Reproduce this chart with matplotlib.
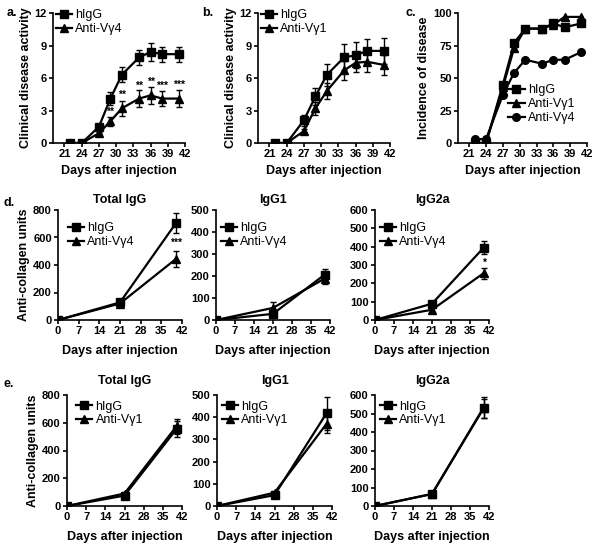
import numpy as np
import matplotlib
matplotlib.use('Agg')
import matplotlib.pyplot as plt

plt.rcParams['font.family'] = ['Liberation Sans', 'DejaVu Sans']
plt.rcParams['font.size'] = 8

# clinical score panels (a, b, c)
days = [22, 24, 27, 29, 31, 34, 36, 38, 41]

a_higg = [0, 0, 1.5, 4.1, 6.3, 7.9, 8.4, 8.2, 8.2]
a_higg_err = [0, 0, 0.3, 0.6, 0.7, 0.7, 0.8, 0.7, 0.7]
a_vg4 = [0, 0, 0.9, 2.0, 3.2, 4.1, 4.4, 4.1, 4.1]
a_vg4_err = [0, 0, 0.1, 0.4, 0.7, 0.8, 0.8, 0.7, 0.8]
a_stars = ['', '', '', '**', '**', '**', '**', '***', '***']
a_star_y = [0, 0, 0, 2.9, 4.4, 5.3, 5.6, 5.3, 5.4]

b_higg = [0, 0, 2.1, 4.3, 6.3, 7.9, 8.1, 8.5, 8.5]
b_higg_err = [0, 0, 0.5, 0.8, 1.0, 1.2, 1.2, 1.1, 1.2]
b_vg1 = [0, 0, 1.1, 3.2, 4.8, 6.7, 7.4, 7.5, 7.2]
b_vg1_err = [0, 0, 0.2, 0.6, 0.7, 0.9, 0.8, 0.9, 0.9]

c_higg = [0, 0, 45, 77, 88, 88, 92, 89, 92]
c_vg1 = [0, 0, 43, 73, 88, 88, 91, 97, 97]
c_vg4 = [3, 3, 37, 54, 64, 61, 64, 64, 70]

# antibody panels (d, e)
ab_days = [0, 21, 40]
titles = ['Total IgG', 'IgG1', 'IgG2a']
ylims = [800, 500, 600]

d_higg = [[0, 128, 706], [0, 28, 206], [0, 89, 394]]
d_higg_err = [[0, 10, 75], [0, 8, 28], [0, 12, 35]]
d_vg4 = [[0, 120, 445], [0, 55, 188], [0, 56, 255]]
d_vg4_err = [[0, 10, 60], [0, 25, 25], [0, 10, 30]]
d_stars = ['***', '', '*']
d_star_y = [560, 0, 310]

e_higg = [[0, 75, 555], [0, 49, 418], [0, 65, 532]]
e_higg_err = [[0, 8, 60], [0, 6, 75], [0, 8, 55]]
e_vg1 = [[0, 90, 575], [0, 60, 370], [0, 65, 528]]
e_vg1_err = [[0, 8, 55], [0, 6, 40], [0, 8, 50]]

W, H = 600, 545
fig = plt.figure(figsize=(6, 5.45), dpi=100)


def add_ax(x0, y_top, x1, y_bot):
    return fig.add_axes([x0 / W, 1 - y_bot / H, (x1 - x0) / W, (y_bot - y_top) / H])


def style(ax):
    for s in ['top', 'right']:
        ax.spines[s].set_visible(False)
    for s in ['left', 'bottom']:
        ax.spines[s].set_linewidth(1.2)
    ax.tick_params(width=1.2, length=3, pad=1.5, labelsize=8)
    for lab in ax.get_xticklabels() + ax.get_yticklabels():
        lab.set_fontweight('bold')


def series(ax, x, y, err, marker, label, ms=5.5):
    ax.errorbar(x, y, yerr=err, fmt='none', ecolor='black', elinewidth=1,
                capsize=2, capthick=1)
    ax.plot(x, y, '-', marker=marker, color='black', ms=ms, lw=1.6, label=label)


def legend(ax, x, y, fs=9):
    ax.legend(loc='upper left', bbox_to_anchor=(x, y), frameon=False,
              handlelength=1.3, handletextpad=0.25, labelspacing=0.15,
              borderpad=0, borderaxespad=0, fontsize=fs)


# ---- top row
top = [(53, 185, 7, 'a.'), (258, 390, 202, 'b.'), (458, 587, 406, 'c.')]
axs = [add_ax(x0, 13, x1, 143) for x0, x1, _, _ in top]

ax = axs[0]
series(ax, days, a_higg, a_higg_err, 's', 'hIgG')
series(ax, days, a_vg4, a_vg4_err, '^', 'Anti-V\u03b34')
for d, s, yy in zip(days, a_stars, a_star_y):
    if s:
        ax.text(d, yy, s, ha='center', va='center', fontsize=7.5, fontweight='bold')
legend(ax, 0.02, 1.03)

ax = axs[1]
series(ax, days, b_higg, b_higg_err, 's', 'hIgG')
series(ax, days, b_vg1, b_vg1_err, '^', 'Anti-V\u03b31')
legend(ax, 0.02, 1.03)

ax = axs[2]
ax.plot(days, c_higg, '-s', color='black', ms=5.5, lw=1.6, label='hIgG')
ax.plot(days, c_vg1, '-^', color='black', ms=5.5, lw=1.6, label='Anti-V\u03b31')
ax.plot(days, c_vg4, '-o', color='black', ms=5.5, lw=1.6, label='Anti-V\u03b34')
legend(ax, 0.39, 0.45)

for ax, (x0, x1, lx, letter) in zip(axs, top):
    ax.set_xlim(19, 42)
    ax.set_xticks(np.arange(21, 43, 3))
    ax.set_xlabel('Days after injection', fontweight='bold', fontsize=9, labelpad=4)
    fig.text(lx / W, 1 - 13 / H, letter, fontweight='bold', fontsize=9,
             ha='left', va='center')
axs[0].set_ylim(0, 12)
axs[1].set_ylim(0, 12)
for ax in axs[:2]:
    ax.set_yticks([0, 3, 6, 9, 12])
    ax.set_ylabel('Clinical disease activity', fontweight='bold', fontsize=9, labelpad=2)
axs[2].set_ylim(0, 100)
axs[2].set_yticks([0, 25, 50, 75, 100])
axs[2].set_ylabel('Incidence of disease', fontweight='bold', fontsize=9, labelpad=2)
for ax in axs:
    style(ax)

# ---- rows d and e
rows = [
    ('d.', 210, 320, [(58, 182), (216, 330), (375, 489)], d_higg, d_higg_err,
     d_vg4, d_vg4_err, 'Anti-V\u03b34', d_stars, d_star_y, 0.89, 200),
    ('e.', 395, 506, [(67, 182), (217, 332), (375, 489)], e_higg, e_higg_err,
     e_vg1, e_vg1_err, 'Anti-V\u03b31', ['', '', ''], [0, 0, 0], 0.95, 381),
]
for (letter, yt, yb, xs, hi, hi_e, an, an_e, an_lab, stars, star_y, leg_y,
     title_y) in rows:
    for i, (x0, x1) in enumerate(xs):
        ax = add_ax(x0, yt, x1, yb)
        series(ax, ab_days, hi[i], hi_e[i], 's', 'hIgG')
        series(ax, ab_days, an[i], an_e[i], '^', an_lab)
        if stars[i]:
            ax.text(40, star_y[i], stars[i], ha='center', va='center',
                    fontsize=7.5, fontweight='bold')
        ax.set_xlim(0, 42)
        ax.set_xticks(np.arange(0, 43, 7))
        ax.set_ylim(0, ylims[i])
        ax.set_yticks(np.arange(0, ylims[i] + 1, 200 if ylims[i] == 800 else 100))
        ax.set_xlabel('Days after injection', fontweight='bold', fontsize=9, labelpad=6)
        if i == 0:
            ax.set_ylabel('Anti-collagen units', fontweight='bold', fontsize=9, labelpad=2)
        fig.text((x0 + x1) / 2 / W, 1 - title_y / H, titles[i], fontweight='bold',
                 fontsize=9, ha='center', va='center')
        legend(ax, 0.08 if i == 0 else 0.04, leg_y)
        style(ax)
    fig.text(4 / W, 1 - (title_y + 3) / H, letter, fontweight='bold', fontsize=9,
             ha='left', va='center')

fig.savefig('out.png', dpi=100)
